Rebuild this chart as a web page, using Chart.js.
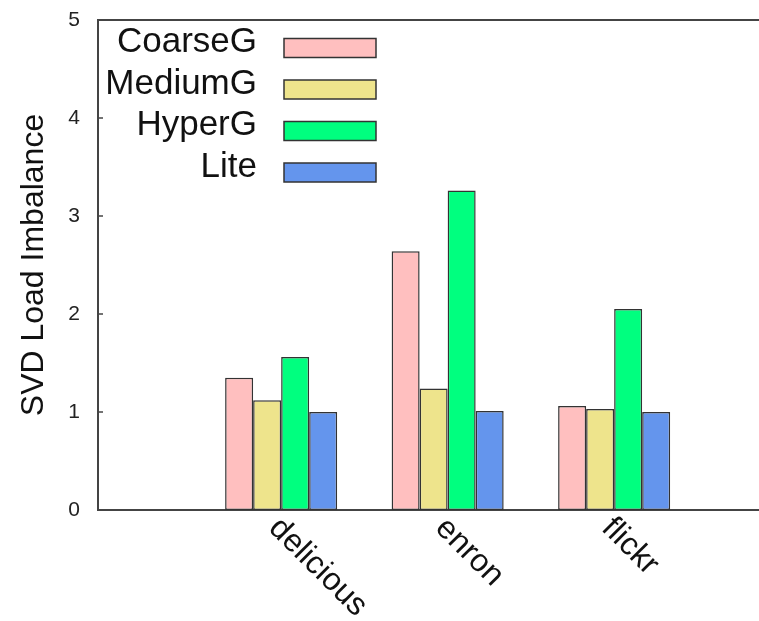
<!DOCTYPE html>
<html>
<head>
<meta charset="utf-8">
<title>SVD Load Imbalance</title>
<script src="https://cdn.jsdelivr.net/npm/chart.js@4"></script>
<style>
    body { margin: 0; background: #ffffff; overflow: hidden; }
    #caixa { width: 759px; height: 621px; }
</style>
</head>
<body>
<div id="caixa">
    <canvas id="chartImbalance" width="759" height="621"></canvas>
</div>
<script>

// Dados do gráfico
var categorias = ["delicious", "enron", "flickr"];
var series = ["CoarseG", "MediumG", "HyperG", "Lite"];
var coarseG = [1.35, 2.64, 1.06];
var mediumG = [1.12, 1.24, 1.03];
var hyperG = [1.56, 3.26, 2.05];
var lite = [1.00, 1.01, 1.00];
var ticksY = [0, 1, 2, 3, 4, 5];

var cores = ["#FFBFBF", "#EEE48C", "#00FF7F", "#6495ED"];
var valores = [coarseG, mediumG, hyperG, lite];

var fonte = "'Liberation Sans', Arial, sans-serif";

// Monta os pontos {x, y} de cada série (x = índice da categoria)
function pontos(lista) {
    return lista.map(function (v, i) {
        return { x: i, y: v };
    });
}

var datasets = [];
for (var i = 0; i < series.length; i++) {
    datasets.push({
        label: series[i],
        data: pontos(valores[i]),
        backgroundColor: cores[i],
        borderColor: "#333333",
        borderWidth: 1.5,
        borderSkipped: false,
        barPercentage: 1.0,
        categoryPercentage: 0.673
    });
}

// Plugin que desenha a borda de cima, os ticks internos, os rótulos inclinados e a legenda
var extras = {
    id: "extras",
    afterDraw: function (chart) {
        var ctx = chart.ctx;
        var area = chart.chartArea;
        var sx = chart.scales.x;
        var sy = chart.scales.y;
        ctx.save();

        // borda de cima
        ctx.strokeStyle = "#444444";
        ctx.lineWidth = 2;
        ctx.beginPath();
        ctx.moveTo(area.left, area.top);
        ctx.lineTo(area.right, area.top);
        ctx.stroke();

        // ticks do eixo y para dentro
        ctx.lineWidth = 1.5;
        ticksY.forEach(function (t) {
            var y = sy.getPixelForValue(t);
            ctx.beginPath();
            ctx.moveTo(area.left, y);
            ctx.lineTo(area.left + 5, y);
            ctx.stroke();
        });

        // rótulos do eixo x girados 45 graus
        ctx.fillStyle = "#111111";
        ctx.font = "32px " + fonte;
        ctx.textAlign = "left";
        ctx.textBaseline = "top";
        categorias.forEach(function (c, i) {
            var x = sx.getPixelForValue(i);
            ctx.save();
            ctx.translate(x + 4, area.bottom + 2);
            ctx.rotate(Math.PI / 4);
            ctx.fillText(c, 0, 0);
            ctx.restore();
        });

        // legenda: texto à esquerda, caixa à direita
        ctx.font = "35px " + fonte;
        ctx.textAlign = "right";
        ctx.textBaseline = "alphabetic";
        chart.data.datasets.forEach(function (ds, k) {
            var cy = 48 + k * 41.5;
            ctx.fillStyle = "#111111";
            ctx.fillText(ds.label, 257, cy + 4);
            ctx.fillStyle = ds.backgroundColor;
            ctx.fillRect(284, cy - 9.5, 92, 19);
            ctx.strokeStyle = "#333333";
            ctx.lineWidth = 1.5;
            ctx.strokeRect(284, cy - 9.5, 92, 19);
        });

        ctx.restore();
    }
};

var config = {
    type: "bar",
    data: {
        datasets: datasets
    },
    options: {
        responsive: false,
        animation: false,
        layout: {
            padding: { top: 20, right: 0, bottom: 111, left: 0 }
        },
        plugins: {
            legend: { display: false },
            tooltip: { enabled: false }
        },
        scales: {
            x: {
                type: "linear",
                min: -1.1,
                max: 2.87,
                offset: false,
                grid: { display: false, drawTicks: false },
                border: { display: true, color: "#444444", width: 2 },
                ticks: { display: false },
                afterBuildTicks: function (scale) {
                    scale.ticks = categorias.map(function (c, i) {
                        return { value: i };
                    });
                },
                afterFit: function (scale) {
                    scale.height = 0;
                }
            },
            y: {
                min: 0,
                max: 5,
                grid: { display: false, drawTicks: false },
                border: { display: true, color: "#444444", width: 2 },
                ticks: {
                    stepSize: 1,
                    padding: 18,
                    color: "#222222",
                    font: { family: fonte, size: 21 }
                },
                title: {
                    display: true,
                    text: "SVD Load Imbalance",
                    color: "#111111",
                    font: { family: fonte, size: 32 },
                    padding: { top: 15, bottom: 0 }
                },
                afterFit: function (scale) {
                    scale.width = 98;
                    scale.paddingTop = 0;
                    scale.paddingBottom = 0;
                }
            }
        }
    },
    plugins: [extras]
};

var myChartBar = new Chart(document.getElementById("chartImbalance"), config);

</script>
</body>
</html>
